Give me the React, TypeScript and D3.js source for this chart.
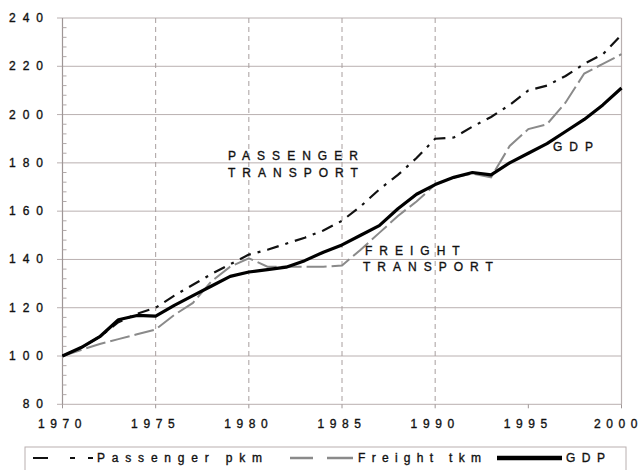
import React from "react";
import * as d3 from "d3";

const years: number[] = d3.range(1970, 2001);
const passenger: number[] = [100, 103.5, 108, 114, 117.5, 120, 125, 129.5, 134, 138, 142, 144, 146.5, 149, 152, 156, 162, 169, 175, 182, 190, 190.5, 195, 199, 204, 210, 212, 216, 221, 225, 233];
const freight: number[] = [100, 102.5, 105, 107, 109, 111, 117, 122, 131, 137, 140.5, 137, 137, 137, 137, 137.5, 144, 151, 158, 164, 171, 174, 175.5, 174, 187, 194, 196, 205, 217, 221, 225];
const gdp: number[] = [100, 103.5, 108, 115, 116.8, 116.5, 121, 125, 129, 133, 134.8, 135.8, 136.8, 139.5, 143, 146, 150, 154, 161, 167, 171, 174, 176, 175, 180, 184, 188, 193, 198, 204, 211];
const yTicks: number[] = [80, 100, 120, 140, 160, 180, 200, 220, 240];
const xTicks: number[] = [1970, 1975, 1980, 1985, 1990, 1995, 2000];
const vGrid: number[] = [1975, 1980, 1985, 1990];
const legendLabels: string[] = ["Passenger pkm", "Freight tkm", "GDP"];

const FONT = "'Liberation Sans', Arial, sans-serif";
const GRID = "#b9b0b0";

export default function App() {
  const x = d3.scaleLinear().domain([1970, 2000]).range([62.5, 621.5]);
  const y = d3.scaleLinear().domain([80, 240]).range([404.3, 18]);
  const line = (vals: number[]) =>
    d3.line<number>().x((_, i) => x(years[i])).y((v) => y(v))(vals) || "";
  const minor = d3.range(80, 240, 4).filter((v) => v % 20 !== 0);
  const txt = { fontFamily: FONT, fontSize: 12, fill: "#111", stroke: "#111", strokeWidth: 0.35 };

  return (
    <svg width={644} height={470} style={{ position: "absolute", left: 0, top: 0, background: "#fff" }}>
      {/* horizontal gridlines */}
      {yTicks.map((t) => (
        <line key={"h" + t} x1={57} x2={x(2000)} y1={y(t)} y2={y(t)} stroke={GRID} strokeWidth={1} />
      ))}
      {/* vertical dashed gridlines */}
      {vGrid.map((t) => (
        <line key={"v" + t} x1={x(t)} x2={x(t)} y1={y(240)} y2={y(80)} stroke="#a89e9e" strokeWidth={1} strokeDasharray="5,4" />
      ))}
      {/* axes frame */}
      <line x1={x(1970)} x2={x(1970)} y1={y(240)} y2={y(80)} stroke="#9e9696" strokeWidth={1.2} />
      <line x1={x(2000)} x2={x(2000)} y1={y(240)} y2={y(80)} stroke={GRID} strokeWidth={1.2} />
      {minor.map((t) => (
        <line key={"m" + t} x1={x(1970)} x2={x(1970) + 4} y1={y(t)} y2={y(t)} stroke="#b0a8a8" strokeWidth={1} />
      ))}
      {xTicks.map((t) => (
        <line key={"xt" + t} x1={x(t)} x2={x(t)} y1={y(80)} y2={y(80) + 4} stroke="#9e9696" strokeWidth={1} />
      ))}
      {/* y labels */}
      {yTicks.map((t) => (
        <text key={"yl" + t} x={50} y={y(t) + 4} textAnchor="end" letterSpacing={7} {...txt}>
          {t}
        </text>
      ))}
      {/* x labels */}
      {xTicks.map((t, i) => (
        <text key={"xl" + t} x={i === xTicks.length - 1 ? x(t) - 3 : x(t)} y={428} textAnchor="middle" letterSpacing={5.6} {...txt}>
          {t}
        </text>
      ))}
      {/* series */}
      <path d={line(freight)} fill="none" stroke="#8a8a8a" strokeWidth={2} strokeDasharray="20,5" />
      <path d={line(passenger)} fill="none" stroke="#111" strokeWidth={2.2} strokeDasharray="12,7,3,7" />
      <path d={line(gdp)} fill="none" stroke="#000" strokeWidth={3.2} strokeLinejoin="round" />
      {/* annotations */}
      <g letterSpacing={7} {...txt}>
        <text x={228} y={160}>PASSENGER</text>
        <text x={228} y={177}>TRANSPORT</text>
        <text x={365} y={255}>FREIGHT</text>
        <text x={363} y={271}>TRANSPORT</text>
        <text x={553} y={151}>GDP</text>
      </g>
      {/* legend */}
      <rect x={25} y={447} width={601} height={30} fill="#fff" stroke={GRID} strokeWidth={1} />
      <line x1={33} x2={94} y1={458} y2={458} stroke="#111" strokeWidth={2.2} strokeDasharray="15,22,5,13,5,100" />
      <text x={97} y={462} letterSpacing={6.8} {...txt}>{legendLabels[0]}</text>
      <line x1={290} x2={353} y1={458} y2={458} stroke="#8a8a8a" strokeWidth={2.5} strokeDasharray="23,14,26,100" />
      <text x={358} y={462} letterSpacing={6.3} {...txt}>{legendLabels[1]}</text>
      <line x1={497} x2={562} y1={458} y2={458} stroke="#000" strokeWidth={4.5} />
      <text x={566} y={462} letterSpacing={6.5} {...txt}>{legendLabels[2]}</text>
    </svg>
  );
}
